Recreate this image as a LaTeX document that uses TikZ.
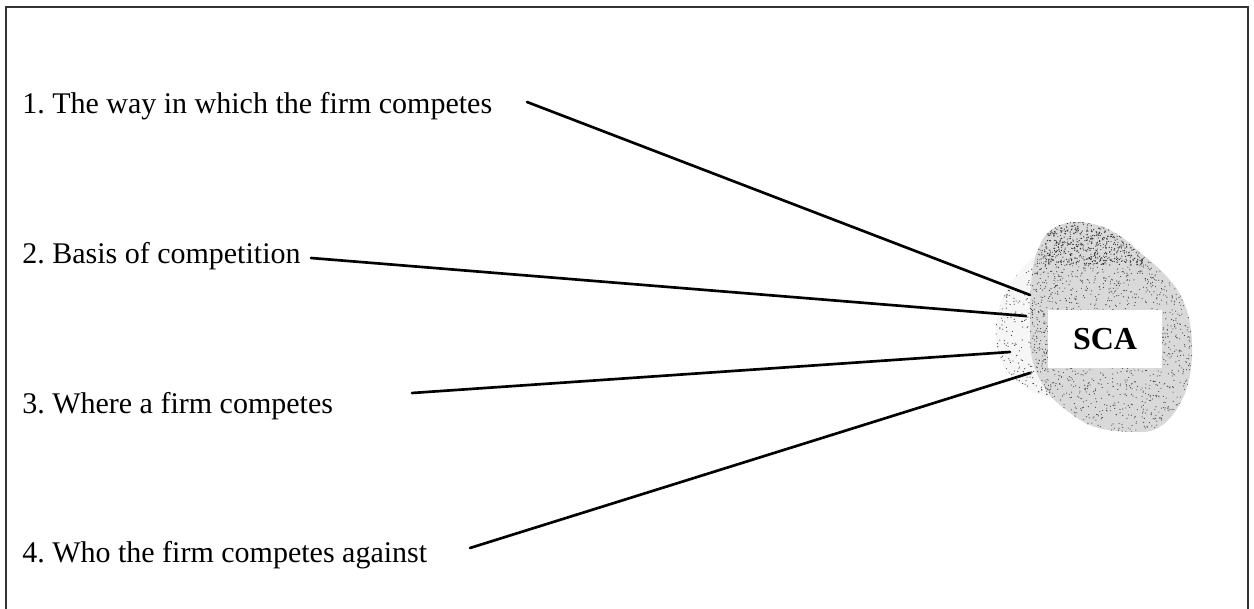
\documentclass[tikz,border=0pt]{standalone}
\usepackage{fontspec}
\setmainfont{Liberation Serif}
\begin{document}
\frenchspacing
\begin{tikzpicture}[x=0.75pt,y=-0.75pt,
  item/.style={anchor=base west,inner sep=0pt,font=\fontsize{22.5}{27}\selectfont},
  spoke/.style={line width=2pt,line cap=round},
  frameline/.style={line width=1.1pt,draw=black!80}]
\useasboundingbox (0,0) rectangle (1254,609);

% open frame (bottom edge falls outside the page)
\draw[frameline] (6,620) -- (6,7) -- (1248,7) -- (1248,620);

% stippled blob behind the label
\def\halo{(1045,245) .. controls (1030,262) and (1012,275) .. (1002,300)
  .. controls (992,325) and (994,355) .. (1008,372)
  .. controls (1020,386) and (1035,394) .. (1050,398)
  .. controls (1065,360) and (1065,290) .. (1045,245) -- cycle}
\def\core{(1040,245) .. controls (1050,215) and (1100,212) .. (1137,250)
  .. controls (1160,268) and (1178,285) .. (1185,305)
  .. controls (1195,330) and (1195,375) .. (1182,400)
  .. controls (1172,420) and (1158,433) .. (1140,432)
  .. controls (1115,432) and (1095,430) .. (1080,420)
  .. controls (1065,410) and (1052,400) .. (1045,388)
  .. controls (1034,372) and (1030,355) .. (1030,340)
  .. controls (1030,320) and (1030,300) .. (1031,285)
  .. controls (1032,265) and (1035,255) .. (1040,245) -- cycle}
\fill[gray!7] \halo;
\fill[gray!30] \core;
\begin{scope}
  \clip \halo;
  \pgfmathsetseed{17}
  \foreach \i in {1,...,450} {
    \pgfmathsetmacro\px{990+rnd*70}
    \pgfmathsetmacro\py{240+rnd*165}
    \fill[black!75] (\px,\py) circle[radius=0.45pt];
  }
\end{scope}
\begin{scope}
  \clip \core;
  \foreach \i in {1,...,2000} {
    \pgfmathsetmacro\px{1028+rnd*170}
    \pgfmathsetmacro\py{212+rnd*224}
    \fill[black!70] (\px,\py) circle[radius=0.45pt];
  }
  % darker cap at the top
  \foreach \i in {1,...,550} {
    \pgfmathsetmacro\px{1045+rnd*100}
    \pgfmathsetmacro\py{215+rnd*50}
    \fill[black!80] (\px,\py) circle[radius=0.5pt];
  }
\end{scope}

% label box
\node[fill=white,minimum width=114*0.75pt,minimum height=58*0.75pt,inner sep=0pt,
  font=\fontsize{24}{28}\selectfont\bfseries] (sca) at (1105,339) {SCA};

% items
\node[item] (t1) at (22,114) {1. The way in which the firm competes};
\node[item] (t2) at (22,264) {2. Basis of competition};
\node[item] (t3) at (22,414) {3. Where a firm competes};
\node[item] (t4) at (22,563) {4. Who the firm competes against};

% spoke end points
\coordinate (a1) at (527,102);
\coordinate (a2) at (311,258);
\coordinate (a3) at (412,393);
\coordinate (a4) at (470,548);
\coordinate (b1) at (1030,295);
\coordinate (b2) at (1026,316);
\coordinate (b3) at (1010,352);
\coordinate (b4) at (1030,373);

\draw[spoke] (a1) -- (b1);
\draw[spoke] (a2) -- (b2);
\draw[spoke] (a3) -- (b3);
\draw[spoke] (a4) -- (b4);
\end{tikzpicture}
\end{document}
